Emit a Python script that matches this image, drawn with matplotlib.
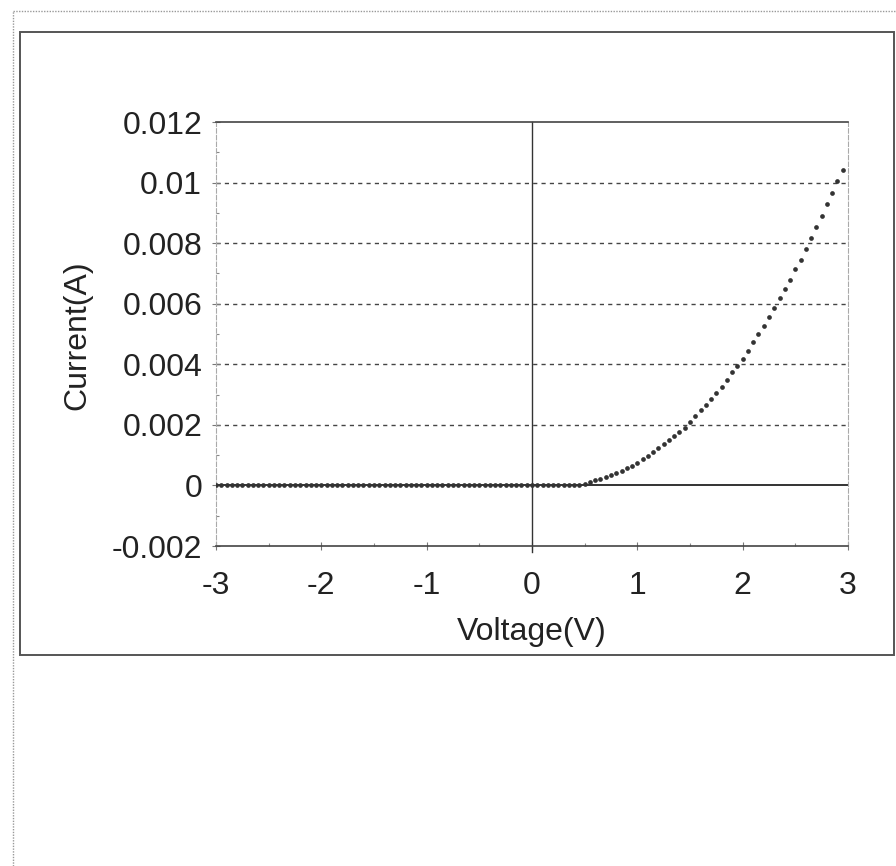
import matplotlib.pyplot as plt
from matplotlib.patches import Rectangle
from matplotlib.lines import Line2D
from matplotlib.ticker import MultipleLocator

plt.rcParams['font.family'] = ['Liberation Sans', 'DejaVu Sans']

# sweep voltages (V)
voltage = [
    -3.00, -2.95, -2.90, -2.85, -2.80, -2.75, -2.70, -2.65, -2.60, -2.55,
    -2.50, -2.45, -2.40, -2.35, -2.30, -2.25, -2.20, -2.15, -2.10, -2.05,
    -2.00, -1.95, -1.90, -1.85, -1.80, -1.75, -1.70, -1.65, -1.60, -1.55,
    -1.50, -1.45, -1.40, -1.35, -1.30, -1.25, -1.20, -1.15, -1.10, -1.05,
    -1.00, -0.95, -0.90, -0.85, -0.80, -0.75, -0.70, -0.65, -0.60, -0.55,
    -0.50, -0.45, -0.40, -0.35, -0.30, -0.25, -0.20, -0.15, -0.10, -0.05,
    0.00, 0.05, 0.10, 0.15, 0.20, 0.25, 0.30, 0.35, 0.40, 0.45,
    0.50, 0.55, 0.60, 0.65, 0.70, 0.75, 0.80, 0.85, 0.90, 0.95,
    1.00, 1.05, 1.10, 1.15, 1.20, 1.25, 1.30, 1.35, 1.40, 1.45,
    1.50, 1.55, 1.60, 1.65, 1.70, 1.75, 1.80, 1.85, 1.90, 1.95,
    2.00, 2.05, 2.10, 2.15, 2.20, 2.25, 2.30, 2.35, 2.40, 2.45,
    2.50, 2.55, 2.60, 2.65, 2.70, 2.75, 2.80, 2.85, 2.90, 2.95,
]

current = [
    0.0, 0.0, 0.0, 0.0, 0.0, 0.0, 0.0, 0.0, 0.0, 0.0,
    0.0, 0.0, 0.0, 0.0, 0.0, 0.0, 0.0, 0.0, 0.0, 0.0,
    0.0, 0.0, 0.0, 0.0, 0.0, 0.0, 0.0, 0.0, 0.0, 0.0,
    0.0, 0.0, 0.0, 0.0, 0.0, 0.0, 0.0, 0.0, 0.0, 0.0,
    0.0, 0.0, 0.0, 0.0, 0.0, 0.0, 0.0, 0.0, 0.0, 0.0,
    0.0, 0.0, 0.0, 0.0, 0.0, 0.0, 0.0, 0.0, 0.0, 0.0,
    0.0, 0.0, 0.0, 0.0, 0.0, 0.0, 0.0, 0.0, 0.0, 0.0,
    0.00005, 0.00013, 0.00017, 0.00021, 0.00027, 0.00034, 0.00041, 0.00048, 0.00057, 0.00065,
    0.00075, 0.00087, 0.00098, 0.00111, 0.00123, 0.00136, 0.00149, 0.00164, 0.00177, 0.00191,
    0.00210, 0.00230, 0.00249, 0.00265, 0.00285, 0.00306, 0.00326, 0.00349, 0.00373, 0.00396,
    0.00419, 0.00445, 0.00472, 0.00499, 0.00526, 0.00557, 0.00587, 0.00618, 0.00647, 0.00679,
    0.00715, 0.00746, 0.00780, 0.00816, 0.00852, 0.00889, 0.00928, 0.00965, 0.01006, 0.01043,
]

x_ticks = [-3, -2, -1, 0, 1, 2, 3]
y_ticks = [-0.002, 0, 0.002, 0.004, 0.006, 0.008, 0.01, 0.012]
y_labels = ['-0.002', '0', '0.002', '0.004', '0.006', '0.008', '0.01', '0.012']
grid_levels = [0.002, 0.004, 0.006, 0.008, 0.01]

fig = plt.figure(figsize=(8.96, 8.66), dpi=100)

# dotted page border and chart frame
fig.add_artist(Line2D([0.0145, 1.0], [0.9873, 0.9873], transform=fig.transFigure,
                      color='#999999', lw=1.0, ls=(0, (1, 1))))
fig.add_artist(Line2D([0.0145, 0.0145], [0.0, 0.9873], transform=fig.transFigure,
                      color='#999999', lw=1.0, ls=(0, (1, 1))))
fig.add_artist(Rectangle((0.0223, 0.2436), 0.9754, 0.7194, transform=fig.transFigure,
                         fill=False, edgecolor='#555555', lw=1.4))

ax = fig.add_axes([0.2411, 0.3695, 0.7053, 0.4896])
ax.set_xlim(-3, 3)
ax.set_ylim(-0.002, 0.012)

for lv in grid_levels:
    ax.axhline(lv, color='#444444', lw=1.0, ls=(0, (3, 3)), zorder=1)
ax.axhline(0, color='#333333', lw=1.4, zorder=2)
ax.axvline(0, ymin=-0.015, ymax=1, color='#333333', lw=1.0, zorder=2, clip_on=False)

ax.plot(voltage, current, 'o', ms=3.4, color='#333333', mec='none', zorder=3)

for side in ['left', 'right']:
    ax.spines[side].set_color('#aaaaaa')
    ax.spines[side].set_linestyle((0, (4, 2)))
    ax.spines[side].set_linewidth(0.8)
for side in ['top', 'bottom']:
    ax.spines[side].set_color('#444444')
    ax.spines[side].set_linewidth(1.2)

ax.set_xticks(x_ticks)
ax.set_xticklabels([str(t) for t in x_ticks])
ax.set_yticks(y_ticks)
ax.set_yticklabels(y_labels)
ax.xaxis.set_minor_locator(MultipleLocator(0.5))
ax.yaxis.set_minor_locator(MultipleLocator(0.001))
ax.tick_params(axis='both', which='major', direction='inout', length=6, width=0.8,
               color='#777777', labelsize=23, labelcolor='#222222')
ax.tick_params(axis='x', which='major', pad=15)
ax.tick_params(axis='y', which='major', pad=7)
ax.tick_params(axis='both', which='minor', direction='in', length=2, width=0.8,
               color='#888888')

ax.set_xlabel('Voltage(V)', fontsize=23, color='#222222')
ax.set_ylabel('Current(A)', fontsize=23, color='#222222')
ax.xaxis.set_label_coords(0.50, -0.1675)
ax.yaxis.set_label_coords(-0.195, 0.498)

fig.savefig('out.png', dpi=100)
